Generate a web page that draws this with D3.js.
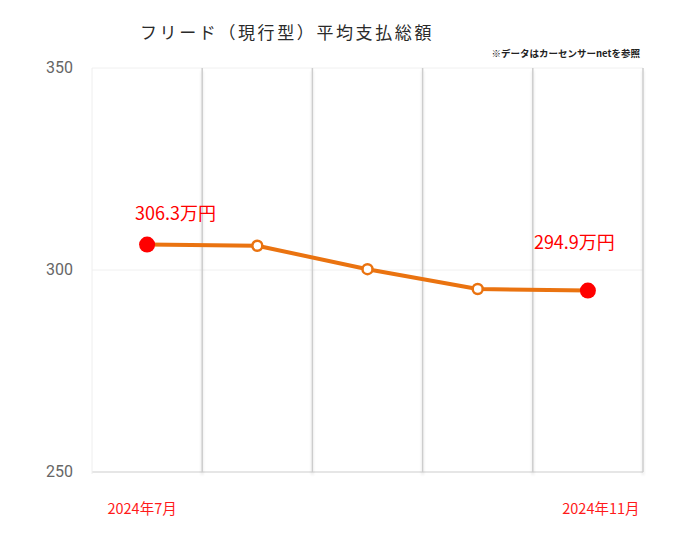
<!DOCTYPE html>
<html><head><meta charset="utf-8">
<script src="https://cdn.jsdelivr.net/npm/d3@7"></script>
<style>body{margin:0;background:#fff}svg{display:block}</style>
</head><body>
<svg id="c" width="680" height="551"></svg>
<script>
const categories = ["2024年7月","2024年8月","2024年9月","2024年10月","2024年11月"];
const values = [306.3, 306.0, 300.2, 295.3, 294.9];
const yTicks = [250, 300, 350];
const xLabels = ["2024年7月","","","","2024年11月"];
const title = "フリード（現行型）平均支払総額";
const note = "※データはカーセンサーnetを参照";

const svg = d3.select("#c");
const W=680,H=551, L=92, R=643, T=68, B=472;
const jp = "'Noto Sans CJK JP','Noto Sans',sans-serif";
const x = d3.scaleBand().domain(categories).range([L,R]).padding(0);
const y = d3.scaleLinear().domain([250,350]).range([B,T]);

const defs = svg.append("defs");
const f = defs.append("filter").attr("id","sh").attr("filterUnits","userSpaceOnUse")
  .attr("x",0).attr("y",0).attr("width",W).attr("height",H);
f.append("feGaussianBlur").attr("in","SourceAlpha").attr("stdDeviation",1.5).attr("result","b");
f.append("feOffset").attr("in","b").attr("dx",0).attr("dy",3).attr("result","o");
f.append("feComponentTransfer").attr("in","o").attr("result","o2").append("feFuncA").attr("type","linear").attr("slope",0.14);
const m = f.append("feMerge"); m.append("feMergeNode").attr("in","o2"); m.append("feMergeNode").attr("in","SourceGraphic");

// horizontal gridlines
svg.append("g").selectAll("line").data(yTicks).join("line")
  .attr("x1",L).attr("x2",R).attr("y1",d=>y(d)).attr("y2",d=>y(d))
  .attr("stroke",d=>d===250?"#e6e6e6":"#f0f0f0").attr("stroke-width",d=>d===250?2:1);
// left edge
svg.append("line").attr("x1",L).attr("x2",L).attr("y1",T).attr("y2",B+2).attr("stroke","#eeeeee").attr("stroke-width",1);
// vertical separators
svg.append("g").attr("filter","url(#sh)").selectAll("rect").data(categories).join("rect")
  .attr("x",d=>x(d)+x.bandwidth()-0.75).attr("width",1.5)
  .attr("y",T).attr("height",B-T)
  .attr("fill","#cdcdcd");

// y labels
svg.append("g").selectAll("text").data(yTicks).join("text")
  .attr("x",46).attr("y",d=>y(d)).attr("dy","0.3em")
  .attr("font-family","Roboto,'Noto Sans',sans-serif").attr("font-size",16).attr("fill","#666")
  .text(d=>d);

// line
const line = d3.line().x((d,i)=>x(categories[i])+x.bandwidth()/2).y(d=>y(d));
svg.append("path").datum(values).attr("d",line).attr("fill","none")
  .attr("stroke","#ea7310").attr("stroke-width",4).attr("stroke-linejoin","round");

// points
const last = values.length-1;
svg.append("g").selectAll("circle").data(values).join("circle")
  .attr("cx",(d,i)=>x(categories[i])+x.bandwidth()/2).attr("cy",d=>y(d))
  .attr("r",(d,i)=>(i===0||i===last)?8:5)
  .attr("fill",(d,i)=>(i===0||i===last)?"#ff0000":"#ffffff")
  .attr("stroke",(d,i)=>(i===0||i===last)?"none":"#ea7310")
  .attr("stroke-width",2.5);

// value labels
const vl = [{i:0,dx:-12,dy:-31},{i:last,dx:-54,dy:-48}];
svg.append("g").selectAll("text").data(vl).join("text")
  .attr("x",d=>x(categories[d.i])+x.bandwidth()/2+d.dx)
  .attr("y",d=>y(values[d.i])+d.dy)
  .attr("dy","0.35em")
  .attr("font-family",jp).attr("font-size",18).attr("fill","#ff0000")
  .text(d=>values[d.i].toFixed(1)+"万円");

// x labels
svg.append("g").selectAll("text").data(xLabels).join("text")
  .attr("x",(d,i)=>x(categories[i])+x.bandwidth()/2+(i===0?-5:13))
  .attr("y",514).attr("text-anchor","middle")
  .attr("font-family",jp).attr("font-size",14.5).attr("fill","#ff1a1a")
  .text(d=>d);

// title
svg.append("text").attr("x",140).attr("y",39)
  .attr("font-family",jp).attr("font-size",17).attr("letter-spacing",2.6).attr("fill","#2a2a2a")
  .text(title);
svg.append("text").attr("x",640).attr("y",57).attr("text-anchor","end")
  .attr("font-family",jp).attr("font-size",9.5).attr("font-weight","bold").attr("fill","#222")
  .text(note);
</script>
</body></html>
